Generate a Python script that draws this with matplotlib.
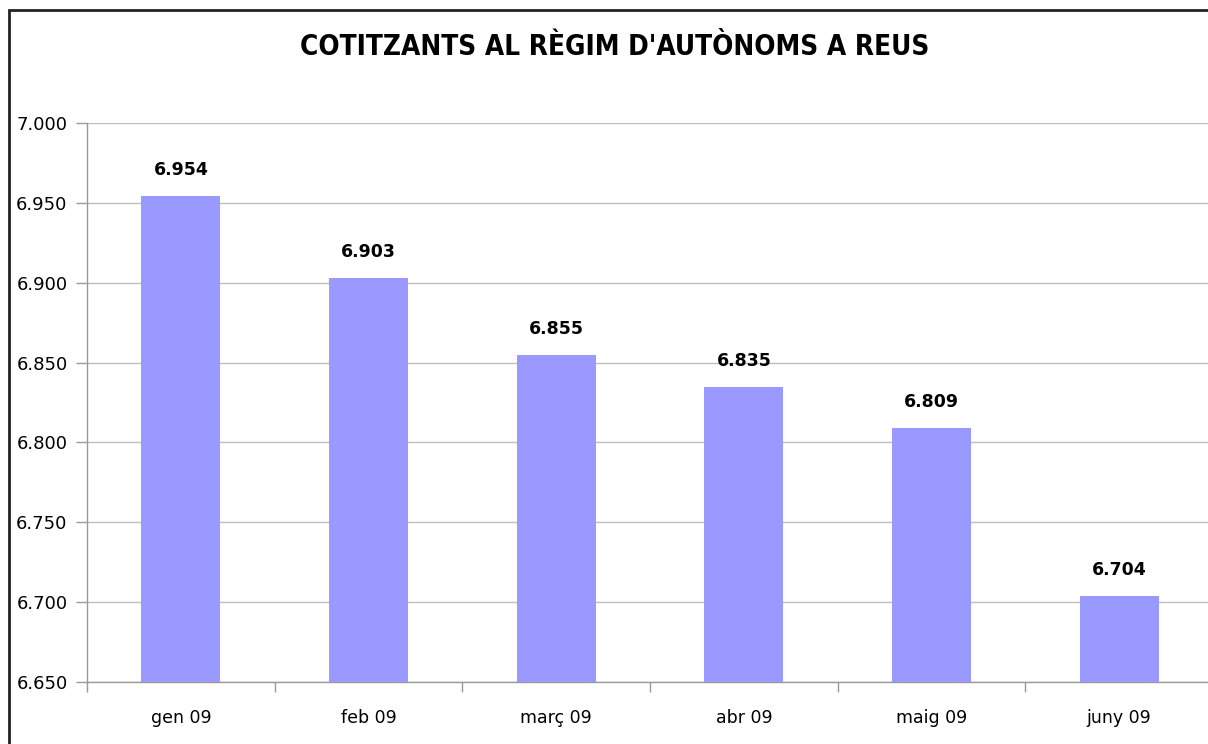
import matplotlib
matplotlib.use("Agg")
import matplotlib.pyplot as plt
from matplotlib.patches import Rectangle
from matplotlib.ticker import FixedLocator, NullFormatter

months = ["gen 09", "feb 09", "març 09", "abr 09", "maig 09", "juny 09"]
values = [6954, 6903, 6855, 6835, 6809, 6704]
yticks = [6650, 6700, 6750, 6800, 6850, 6900, 6950, 7000]
title = "COTITZANTS AL RÈGIM D'AUTÒNOMS A REUS"

def fmt(v):
    return f"{v:,}".replace(",", ".")

W, H = 1208, 744
fig = plt.figure(figsize=(W / 100, H / 100), dpi=100)
fig.patch.set_facecolor("white")

# figure border (top & left visible, right/bottom run off edge)
fig.add_artist(Rectangle((8.5 / W, -0.01), 1.05, (H - 9.5) / H + 0.01,
                         transform=fig.transFigure, fill=False,
                         edgecolor="#222222", linewidth=2, zorder=10))

left, right = 87, 1213
top, bottom = 123, 682
ax = fig.add_axes([left / W, (H - bottom) / H, (right - left) / W, (bottom - top) / H])
ax.set_xlim(-0.5, len(months) - 0.5)
ax.set_ylim(6650, 7000)

x = list(range(len(months)))
ax.bar(x, values, width=0.42, color="#9999FF", zorder=3)

for xi, v in zip(x, values):
    ax.annotate(fmt(v), (xi, v), xytext=(0, 26), textcoords="offset pixels",
                ha="center", va="center", fontsize=12.5, fontweight="bold",
                fontfamily="DejaVu Sans", color="black")

ax.set_yticks(yticks)
ax.set_yticklabels([fmt(t) for t in yticks], fontsize=13, fontfamily="DejaVu Sans")
ax.yaxis.grid(True, color="#BDBDBD", linewidth=1, zorder=0)
ax.tick_params(axis="y", length=8, color="#999999", width=1, pad=6)

ax.xaxis.set_major_locator(FixedLocator([i - 0.5 for i in range(len(months) + 1)]))
ax.xaxis.set_major_formatter(NullFormatter())
ax.tick_params(axis="x", length=7, color="#999999", width=1)
for xi, m in zip(x, months):
    ax.annotate(m, (xi, 0), xycoords=("data", "axes fraction"),
                xytext=(0, -36), textcoords="offset pixels",
                ha="center", va="center", fontsize=12.5, fontfamily="DejaVu Sans",
                annotation_clip=False)

for s in ["top", "right"]:
    ax.spines[s].set_visible(False)
for s in ["left", "bottom"]:
    ax.spines[s].set_color("#999999")
    ax.spines[s].set_linewidth(1)

fig.text(615 / W, (H - 47) / H, title, ha="center", va="center",
         fontsize=20, fontweight="bold",
         fontfamily=["Liberation Sans Narrow", "DejaVu Sans"], fontstretch="condensed")

fig.savefig("out.png", dpi=100)
